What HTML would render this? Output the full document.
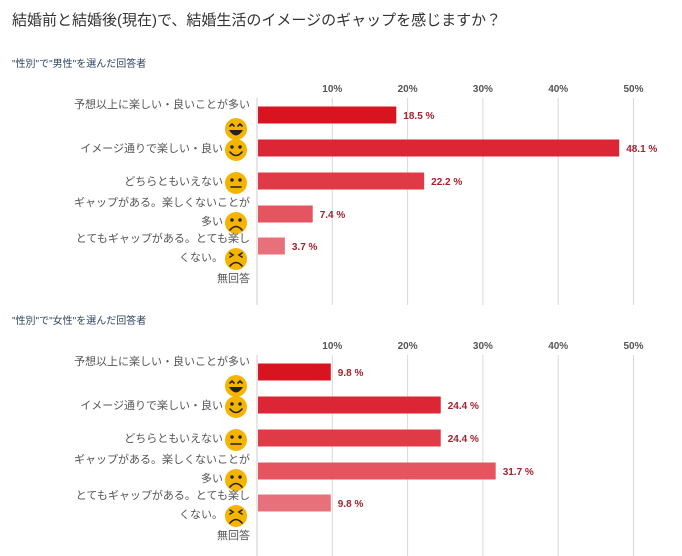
<!DOCTYPE html>
<html><head><meta charset="utf-8"><style>
body{margin:0;background:#fff;}
svg{display:block;font-family:"Liberation Sans","Noto Sans CJK JP",sans-serif;}
</style></head><body>
<svg id="c" width="682" height="556">
<text x="12" y="25" font-size="15" fill="#333">結婚前と結婚後(現在)で、結婚生活のイメージのギャップを感じますか？</text>
</svg>
<script>
const ticks=[10,20,30,40,50];
const tickLabels=["10%","20%","30%","40%","50%"];
const categories=["予想以上に楽しい・良いことが多い","イメージ通りで楽しい・良い","どちらともいえない","ギャップがある。楽しくないことが多い","とてもギャップがある。とても楽しくない。","無回答"];
const maleValues=[18.5,48.1,22.2,7.4,3.7];
const femaleValues=[9.8,24.4,24.4,31.7,9.8];
const colors=["#d7141f","#dc2535","#e03a47","#e45560","#e8707a"];
const NS="http://www.w3.org/2000/svg";
const svg=document.getElementById('c');
const x0=257, pxPer=7.53;
const xs=v=>x0+v*pxPer;
function el(t,a,p){const e=document.createElementNS(NS,t);for(const k in a)e.setAttribute(k,a[k]);(p||svg).appendChild(e);return e;}
function txt(x,y,s,a,p){const e=el('text',Object.assign({x:x,y:y},a),p);e.textContent=s;return e;}
function face(g,cx,cy,type){
  el('circle',{cx:cx,cy:cy,r:11,fill:'#f4b400'},g);
  const st={stroke:'#222','stroke-width':1.6,fill:'none','stroke-linecap':'round'};
  if(type===0){el('path',Object.assign({d:`M${cx-6} ${cy-3} l2 -2 l2 2 M${cx+2} ${cy-3} l2 -2 l2 2`},st),g);el('path',{d:`M${cx-7} ${cy+1} Q${cx} ${cy+12} ${cx+7} ${cy+1} Z`,fill:'#222'},g);}
  else{
    if(type===4){el('path',Object.assign({d:`M${cx-6} ${cy-6} l3 2 l-3 2 M${cx+6} ${cy-6} l-3 2 l3 2`},st),g);}
    else{el('circle',{cx:cx-4,cy:cy-3,r:1.7,fill:'#222'},g);el('circle',{cx:cx+4,cy:cy-3,r:1.7,fill:'#222'},g);}
    if(type===1)el('path',Object.assign({d:`M${cx-6} ${cy+2} Q${cx} ${cy+9} ${cx+6} ${cy+2}`},st),g);
    if(type===2)el('path',Object.assign({d:`M${cx-5} ${cy+4} L${cx+5} ${cy+4}`},st),g);
    if(type>=3)el('path',Object.assign({d:`M${cx-6} ${cy+7} Q${cx} ${cy} ${cx+6} ${cy+7}`},st),g);
  }
}
function chart(top,values,subtitle,name){
  const g=el('g',{});
  
  
  const s=txt(12,top-3,subtitle,{'font-size':10,fill:'#2d4660'},g);
  
  
  const axTop=top+20, axBot=top+235;
  ticks.forEach((t,i)=>{
    const l=el('line',{x1:xs(t),x2:xs(t),y1:axTop+8,y2:axBot,stroke:'#d8d8d8'},g);
    
    
    const tl=txt(xs(t),axTop+2,tickLabels[i],{'font-size':10,'font-weight':'bold',fill:'#555','text-anchor':'middle'},g);
    
    
  });
  const ax=el('line',{x1:x0,x2:x0,y1:axTop+8,y2:axBot,stroke:'#ccc'},g);
  
  
  const rowC=[top+45,top+78,top+111,top+144,top+176];
  values.forEach((v,i)=>{
    const r=el('rect',{x:x0+1,y:rowC[i]-8.5,width:xs(v)-x0-1,height:17,fill:colors[i]},g);
    
    
    const vl=txt(xs(v)+7,rowC[i]+4,v.toFixed(1)+' %',{'font-size':10,'font-weight':'bold',fill:'#a8202c'},g);
    
    
  });
  const lab={'font-size':11,fill:'#555','text-anchor':'end'};
  const L=[[0,top+38,categories[0]],[1,top+82,categories[1]],[2,top+115,categories[2]],[3,top+136,"ギャップがある。楽しくないことが"],[3,top+155,"多い"],[4,top+172,"とてもギャップがある。とても楽し"],[4,top+191,"くない。"],[5,top+212,categories[5]]];
  const faceY=[top+59,top+80,top+113,top+153,top+189];
  faceY.forEach((fy,i)=>face(g,236,fy,i));
  L.forEach(a=>{
    const x=(a[2]===categories[1]||a[2]===categories[2]||a[2]==="多い"||a[2]==="くない。")?223:250;
    const t=txt(x,a[1],a[2],lab,g);
    
    
  });
}
chart(70,maleValues,'"性別"で"男性"を選んだ回答者','male-chart');
chart(327,femaleValues,'"性別"で"女性"を選んだ回答者','female-chart');
</script>
</body></html>
